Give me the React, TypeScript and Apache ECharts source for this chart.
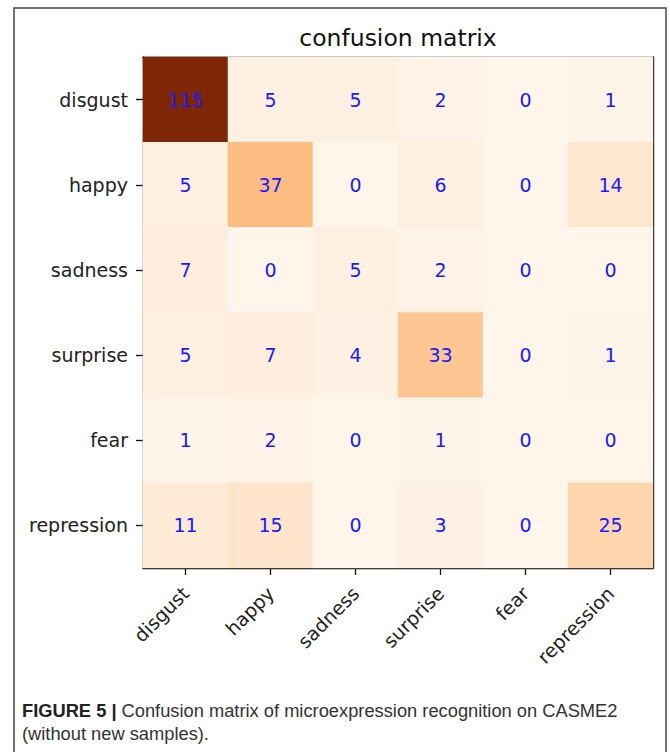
import React, { useEffect, useRef } from "react";
import * as echarts from "echarts";

const classes = ["disgust", "happy", "sadness", "surprise", "fear", "repression"];
const rowDisgust = [115, 5, 5, 2, 0, 1];
const rowHappy = [5, 37, 0, 6, 0, 14];
const rowSadness = [7, 0, 5, 2, 0, 0];
const rowSurprise = [5, 7, 4, 33, 0, 1];
const rowFear = [1, 2, 0, 1, 0, 0];
const rowRepression = [11, 15, 0, 3, 0, 25];
const matrixRows = [rowDisgust, rowHappy, rowSadness, rowSurprise, rowFear, rowRepression];
const titleText = "confusion matrix";
const captionBold = "FIGURE 5 |";
const captionLine1 = " Confusion matrix of microexpression recognition on CASME2";
const captionLine2 = "(without new samples).";
const orangesStops = ["#fff5eb", "#fee6ce", "#fdd0a2", "#fdae6b", "#fd8d3c", "#f16913", "#d94801", "#a63603", "#7f2704"];

export default function App() {
  const ref = useRef<HTMLDivElement>(null);
  useEffect(() => {
    if (!ref.current) return;
    const chart = echarts.init(ref.current, null, { renderer: "svg" });
    const data: number[][] = [];
    matrixRows.forEach((row, yi) => row.forEach((v, xi) => data.push([xi, yi, v])));
    const font = "DejaVu Sans";
    const gridL = 143, gridT = 57, gridW = 510, gridH = 511;
    chart.setOption({
      animation: false,
      backgroundColor: "#ffffff",
      grid: { left: gridL, top: gridT, width: gridW, height: gridH },
      xAxis: [
        {
          type: "category",
          data: classes,
          position: "bottom",
          axisLine: { show: true, lineStyle: { color: "#000", width: 1.4 } },
          axisTick: { show: true, alignWithLabel: true, length: 7, lineStyle: { color: "#111", width: 1.3 } },
          axisLabel: { rotate: 45, margin: 22, fontSize: 19, fontFamily: font, color: "#222", interval: 0 },
          splitLine: { show: false },
        },
        {
          type: "category",
          data: classes,
          position: "top",
          axisLine: { show: true, lineStyle: { color: "#000", width: 1.4 } },
          axisTick: { show: false },
          axisLabel: { show: false },
        },
      ],
      yAxis: [
        {
          type: "category",
          data: classes,
          inverse: true,
          position: "left",
          axisLine: { show: true, lineStyle: { color: "#000", width: 1.4 } },
          axisTick: { show: true, alignWithLabel: true, length: 7, lineStyle: { color: "#111", width: 1.3 } },
          axisLabel: { margin: 15, fontSize: 19, fontFamily: font, color: "#222", interval: 0 },
          splitLine: { show: false },
        },
        {
          type: "category",
          data: classes,
          inverse: true,
          position: "right",
          axisLine: { show: true, lineStyle: { color: "#000", width: 1.4 } },
          axisTick: { show: false },
          axisLabel: { show: false },
        },
      ],
      visualMap: {
        show: false,
        min: 0,
        max: 115,
        dimension: 2,
        inRange: { color: orangesStops },
      },
      series: [
        {
          type: "heatmap",
          data,
          xAxisIndex: 0,
          yAxisIndex: 0,
          label: { show: true, color: "#1a1aff", fontSize: 19, fontFamily: font },
          emphasis: { disabled: true },
          itemStyle: { borderWidth: 0 },
        },
      ],
      graphic: [
        {
          type: "rect",
          shape: { x: 14, y: 8, width: 652, height: 770 },
          style: { fill: "none", stroke: "#444", lineWidth: 1.5 },
          silent: true,
        },
        {
          type: "text",
          x: gridL + gridW / 2,
          y: 38,
          style: { text: titleText, font: `23.5px '${font}'`, fill: "#111", textAlign: "center", textVerticalAlign: "middle" },
        },
        {
          type: "text",
          x: 22,
          y: 710,
          style: {
            text: `{b|${captionBold}}${captionLine1}`,
            font: "18.3px 'Liberation Sans'",
            fill: "#333",
            textVerticalAlign: "middle",
            rich: {
              b: { fontWeight: "bold", fontSize: 18.3, fontFamily: "Liberation Sans", fill: "#222" },
            },
          },
        },
        {
          type: "text",
          x: 22,
          y: 733,
          style: { text: captionLine2, font: "18.3px 'Liberation Sans'", fill: "#333", textVerticalAlign: "middle" },
        },
      ],
    });
    return () => chart.dispose();
  }, []);
  return <div ref={ref} style={{ position: "absolute", left: 0, top: 0, width: 670, height: 752 }} />;
}
